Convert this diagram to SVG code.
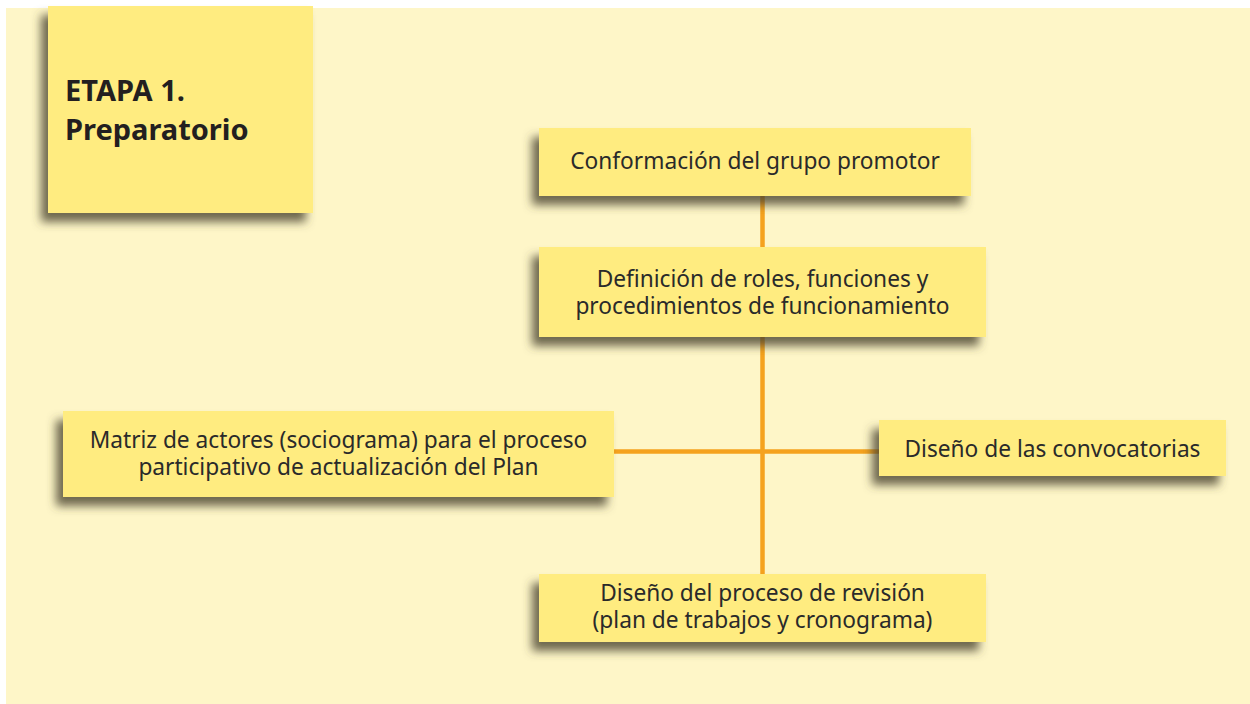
<svg xmlns="http://www.w3.org/2000/svg" width="1250" height="704" viewBox="0 0 1250 704">
  <defs>
    <filter id="sh" x="-10%" y="-20%" width="120%" height="160%">
      <feDropShadow dx="-7" dy="9" stdDeviation="5" flood-color="#4a4430" flood-opacity="0.8"/>
    </filter>
    <style>
      .box { fill: #FFEC80; filter: url(#sh); }
      .t { font-family: "Noto Sans", "Open Sans", sans-serif; font-size: 22.7px; fill: #2a2a2a; text-anchor: middle; }
      .title { font-family: "Noto Sans", "Open Sans", sans-serif; font-size: 29px; font-weight: bold; fill: #231f20; }
      .ln { stroke: #F5A21E; stroke-width: 4.5; fill: none; }
    </style>
  </defs>
  <rect x="0" y="0" width="1250" height="704" fill="#ffffff"/>
  <rect x="6" y="8" width="1244" height="696" fill="#FEF6C8"/>

  <g id="connectors">
    <line class="ln" x1="762.5" y1="195" x2="762.5" y2="575"/>
    <line class="ln" x1="613" y1="451.5" x2="880" y2="451.5"/>
  </g>

  <g id="etapa">
    <rect class="box" x="48" y="6" width="265" height="207"/>
    <text class="title" x="65" y="101">ETAPA 1.</text>
    <text class="title" x="65" y="140">Preparatorio</text>
  </g>

  <g id="conformacion">
    <rect class="box" x="539" y="128" width="432" height="68"/>
    <text class="t" x="755" y="169">Conformación del grupo promotor</text>
  </g>

  <g id="definicion">
    <rect class="box" x="539" y="247" width="447" height="90"/>
    <text class="t" x="762.5" y="287">Definición de roles, funciones y</text>
    <text class="t" x="762.5" y="314">procedimientos de funcionamiento</text>
  </g>

  <g id="matriz">
    <rect class="box" x="63" y="411" width="551" height="86"/>
    <text class="t" x="338.5" y="448">Matriz de actores (sociograma) para el proceso</text>
    <text class="t" x="338.5" y="475">participativo de actualización del Plan</text>
  </g>

  <g id="convocatorias">
    <rect class="box" x="879" y="420" width="347" height="56"/>
    <text class="t" x="1052.5" y="457">Diseño de las convocatorias</text>
  </g>

  <g id="revision">
    <rect class="box" x="539" y="574" width="447" height="68"/>
    <text class="t" x="762.5" y="601">Diseño del proceso de revisión</text>
    <text class="t" x="762.5" y="628">(plan de trabajos y cronograma)</text>
  </g>
</svg>
